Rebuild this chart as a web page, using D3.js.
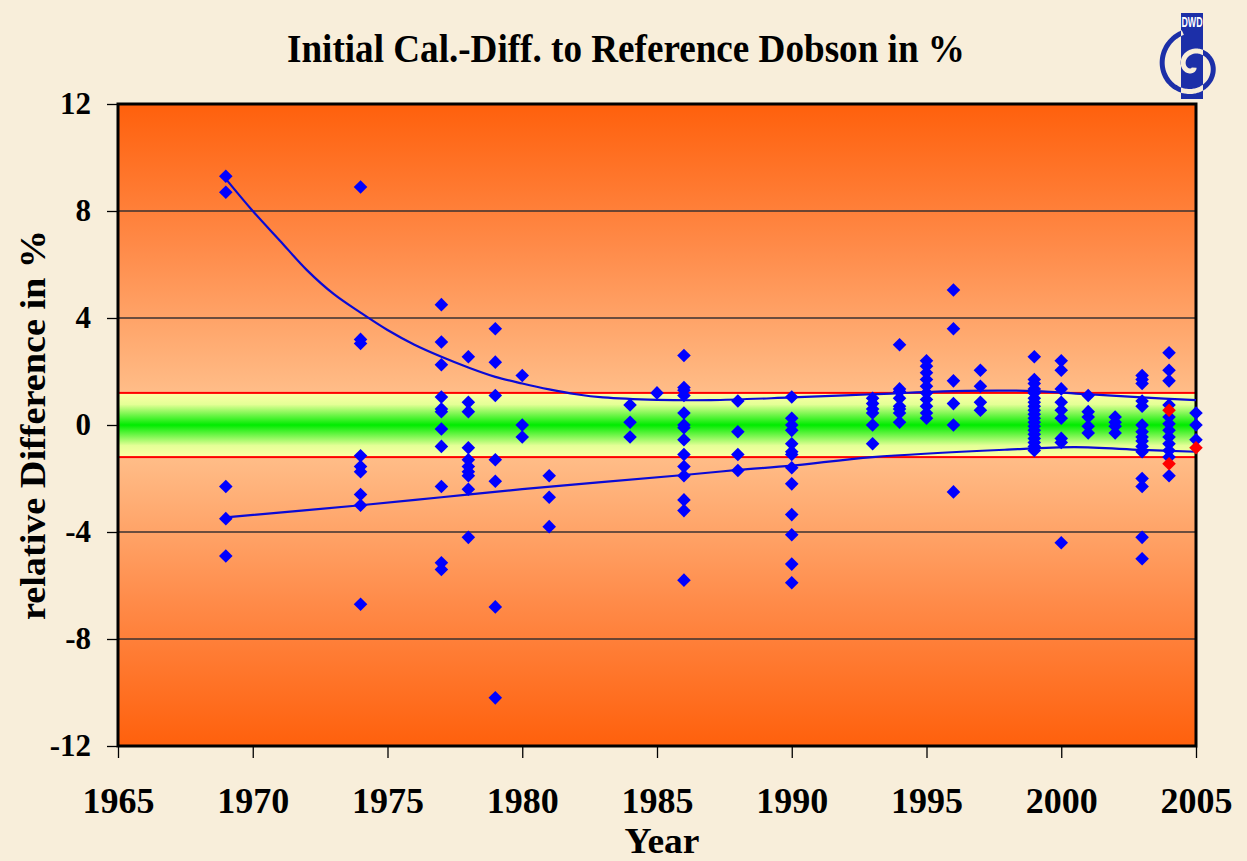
<!DOCTYPE html>
<html>
<head>
<meta charset="utf-8">
<script src="https://cdn.jsdelivr.net/npm/d3@7"></script>
<style>
  body { margin: 0; background: #f8eeda; }
  svg { display: block; }
  .serif { font-family: "Liberation Serif", "Times New Roman", serif; font-weight: bold; fill: #000; }
</style>
</head>
<body>
<div class="chart"></div>
<script>
// values
var years = [1969, 1974, 1977, 1978, 1979, 1980, 1981, 1984, 1985, 1986, 1988, 1990,
             1993, 1994, 1995, 1996, 1997, 1999, 2000, 2001, 2002, 2003, 2004, 2005];
var blueDiffs = [
  [9.3, 8.7, -2.3, -3.5, -4.9],
  [8.9, 3.2, 3.05, -1.15, -1.55, -1.75, -2.6, -3.0, -6.7],
  [4.5, 3.1, 2.25, 1.05, 0.6, 0.5, -0.15, -0.8, -2.3, -5.15, -5.4],
  [2.55, 0.85, 0.5, -0.85, -1.3, -1.55, -1.75, -1.9, -2.4, -4.2],
  [3.6, 2.35, 1.1, -1.3, -2.1, -6.8, -10.2],
  [1.85, 0.0, -0.45],
  [-1.9, -2.7, -3.8],
  [0.75, 0.1, -0.45],
  [1.2],
  [2.6, 1.4, 1.3, 1.1, 0.45, 0.0, -0.1, -0.55, -1.1, -1.55, -1.9, -2.8, -3.2, -5.8],
  [0.9, -0.25, -1.1, -1.7],
  [1.05, 0.25, 0.0, -0.2, -0.7, -1.0, -1.1, -1.6, -2.2, -3.35, -4.1, -5.2, -5.9],
  [1.0, 0.8, 0.6, 0.45, 0.0, -0.7],
  [3.0, 1.35, 1.25, 1.0, 0.7, 0.6, 0.45, 0.1],
  [2.4, 2.2, 1.95, 1.7, 1.45, 1.2, 0.95, 0.7, 0.45, 0.25],
  [5.05, 3.6, 1.65, 0.8, 0.0, -2.5],
  [2.05, 1.45, 0.85, 0.55],
  [2.55, 1.7, 1.55, 1.35, 1.2, 1.0, 0.85, 0.7, 0.55, 0.4, 0.25, 0.1, -0.05, -0.2, -0.35, -0.5, -0.65, -0.8, -0.95],
  [2.4, 2.05, 1.35, 0.85, 0.55, 0.25, -0.5, -0.65, -4.4],
  [1.1, 0.5, 0.3, -0.05, -0.3],
  [0.3, 0.1, -0.05, -0.3],
  [1.85, 1.7, 1.55, 0.9, 0.7, 0.0, -0.25, -0.45, -0.6, -0.8, -1.0, -2.0, -2.3, -4.2, -5.0],
  [2.7, 2.05, 1.65, 0.75, 0.3, 0.05, -0.2, -0.45, -0.7, -0.95, -1.2, -1.9],
  [0.45, 0.0, -0.55]
];
var redYears = [2004, 2004, 2005];
var redDiffs = [0.55, -1.45, -0.85];

// upper / lower envelope curves
var upperYears = [1969, 1970, 1971, 1972, 1973, 1974, 1975, 1976, 1977, 1978, 1979, 1980, 1981, 1982, 1983, 1985, 1987, 1990, 1993, 1996, 1999, 2001, 2003, 2005];
var upperDiffs = [9.2, 8.0, 6.9, 5.8, 4.9, 4.2, 3.55, 3.0, 2.55, 2.15, 1.8, 1.55, 1.33, 1.15, 1.03, 0.94, 0.93, 1.03, 1.15, 1.27, 1.27, 1.15, 1.03, 0.93];
var lowerYears = [1969, 1974, 1977, 1980, 1986, 1988, 1990, 1993, 1998, 2000.5, 2003, 2005];
var lowerDiffs = [-3.45, -3.0, -2.7, -2.4, -1.87, -1.68, -1.52, -1.2, -0.92, -0.83, -0.93, -1.0];

var bandLimit = 1.2;
var yTicks = [-12, -8, -4, 0, 4, 8, 12];
var gridValues = [-8, -4, 4, 8];
var xTicks = [1965, 1970, 1975, 1980, 1985, 1990, 1995, 2000, 2005];

var w = 1247,
    h = 861;

var svg = d3.select('.chart').append('svg').attr('width', w).attr('height', h);

var x = d3.scaleLinear().domain([1965, 2005]).range([118, 1196]);
var y = d3.scaleLinear().domain([-12, 12]).range([746, 104]);

var defs = svg.append('defs');

var bg = defs.append('linearGradient').attr('id', 'bg')
  .attr('x1', 0).attr('y1', 0).attr('x2', 0).attr('y2', 1);
bg.append('stop').attr('offset', '0%').attr('stop-color', '#ff600c');
bg.append('stop').attr('offset', '22%').attr('stop-color', '#ff8a48');
bg.append('stop').attr('offset', '50%').attr('stop-color', '#ffc896');
bg.append('stop').attr('offset', '78%').attr('stop-color', '#ff8a48');
bg.append('stop').attr('offset', '100%').attr('stop-color', '#ff600c');

var band = defs.append('linearGradient').attr('id', 'band')
  .attr('x1', 0).attr('y1', 0).attr('x2', 0).attr('y2', 1);
band.append('stop').attr('offset', '0%').attr('stop-color', '#ffffa8');
band.append('stop').attr('offset', '18%').attr('stop-color', '#e4ff96');
band.append('stop').attr('offset', '50%').attr('stop-color', '#00ec00');
band.append('stop').attr('offset', '82%').attr('stop-color', '#e4ff96');
band.append('stop').attr('offset', '100%').attr('stop-color', '#ffffa8');

// plot background
svg.append('rect')
  .attr('x', x(1965)).attr('y', y(12))
  .attr('width', x(2005) - x(1965)).attr('height', y(-12) - y(12))
  .attr('fill', 'url(#bg)');

// grid lines
svg.selectAll('.grid')
  .data(gridValues)
  .enter().append('line')
  .attr('class', 'grid')
  .attr('x1', x(1965)).attr('x2', x(2005))
  .attr('y1', function (d) { return y(d); })
  .attr('y2', function (d) { return y(d); })
  .attr('stroke', '#3a3030').attr('stroke-width', 1.3);

// tolerance band
svg.append('rect')
  .attr('x', x(1965)).attr('y', y(bandLimit))
  .attr('width', x(2005) - x(1965)).attr('height', y(-bandLimit) - y(bandLimit))
  .attr('fill', 'url(#band)')
  .attr('stroke', '#ff0000').attr('stroke-width', 2);

// frame
svg.append('rect')
  .attr('x', x(1965)).attr('y', y(12))
  .attr('width', x(2005) - x(1965)).attr('height', y(-12) - y(12))
  .attr('fill', 'none').attr('stroke', '#000').attr('stroke-width', 3);

// axes
var plain = function (d) { return String(d); };
var yAxis = svg.append('g')
  .attr('transform', 'translate(' + (x(1965) - 1) + ',0)')
  .call(d3.axisLeft(y).tickValues(yTicks).tickSize(10).tickPadding(16).tickFormat(plain));
var xAxis = svg.append('g')
  .attr('transform', 'translate(0,' + (y(-12) + 1) + ')')
  .call(d3.axisBottom(x).tickValues(xTicks).tickSize(11).tickPadding(29).tickFormat(plain));

[yAxis, xAxis].forEach(function (g) {
  g.select('.domain').remove();
  g.selectAll('.tick line').attr('stroke', '#000').attr('stroke-width', 1.3);
  g.selectAll('.tick text').attr('class', 'serif').attr('fill', '#000');
});
yAxis.selectAll('.tick text').style('font-size', '31px');
xAxis.selectAll('.tick text').style('font-size', '36px')
  .attr('textLength', 72).attr('lengthAdjust', 'spacingAndGlyphs');

// fit curves
var line = d3.line()
  .x(function (d) { return x(d[0]); })
  .y(function (d) { return y(d[1]); })
  .curve(d3.curveCatmullRom.alpha(0.5));

[[upperYears, upperDiffs], [lowerYears, lowerDiffs]].forEach(function (s) {
  svg.append('path')
    .datum(d3.zip(s[0], s[1]))
    .attr('d', line)
    .attr('fill', 'none')
    .attr('stroke', '#0a0ad6')
    .attr('stroke-width', 2.2);
});

// points
var bluePoints = [];
years.forEach(function (yr, i) {
  blueDiffs[i].forEach(function (v) { bluePoints.push([yr, v]); });
});
var diamond = d3.symbol().type(d3.symbolSquare).size(92);

svg.selectAll('.pt')
  .data(bluePoints)
  .enter().append('path')
  .attr('class', 'pt')
  .attr('d', diamond)
  .attr('transform', function (d) { return 'translate(' + x(d[0]) + ',' + y(d[1]) + ') rotate(45)'; })
  .attr('fill', '#0000ff');

svg.selectAll('.rpt')
  .data(d3.zip(redYears, redDiffs))
  .enter().append('path')
  .attr('class', 'rpt')
  .attr('d', diamond)
  .attr('transform', function (d) { return 'translate(' + x(d[0]) + ',' + y(d[1]) + ') rotate(45)'; })
  .attr('fill', '#ff0000');

// titles
svg.append('text').attr('class', 'serif')
  .attr('x', 626).attr('y', 62)
  .attr('text-anchor', 'middle')
  .style('font-size', '39px')
  .attr('textLength', 678).attr('lengthAdjust', 'spacingAndGlyphs')
  .text('Initial Cal.-Diff. to Reference Dobson in %');

svg.append('text').attr('class', 'serif')
  .attr('transform', 'translate(45,425) rotate(-90)')
  .attr('text-anchor', 'middle')
  .style('font-size', '35px')
  .attr('textLength', 390).attr('lengthAdjust', 'spacingAndGlyphs')
  .text('relative Difference in %');

svg.append('text').attr('class', 'serif')
  .attr('x', 662).attr('y', 853)
  .attr('text-anchor', 'middle')
  .style('font-size', '36px')
  .attr('textLength', 75).attr('lengthAdjust', 'spacingAndGlyphs')
  .text('Year');

// DWD logo
var logo = svg.append('g');
var barClip = defs.append('clipPath').attr('id', 'barClip');
barClip.append('rect').attr('x', 1181).attr('y', 13).attr('width', 22).attr('height', 86);
var outClip = defs.append('clipPath').attr('id', 'outClip');
outClip.append('path')
  .attr('d', 'M1140,0H1247V110H1140Z M1181,13V99H1203V13Z')
  .attr('clip-rule', 'evenodd');

var spiralPts = d3.range(0, 3.1 * Math.PI, 0.05).map(function (t) {
  var r = 2 + t * 3.4;
  return [1193 + r * Math.cos(t + 1.0), 66 + r * Math.sin(t + 1.0)];
});
var spiral = d3.line().curve(d3.curveBasis)(spiralPts);

logo.append('rect').attr('x', 1181).attr('y', 13).attr('width', 22).attr('height', 86).attr('fill', '#1c2fa8');
logo.append('path').attr('d', spiral).attr('fill', 'none')
  .attr('stroke', '#f8eeda').attr('stroke-width', 5).attr('clip-path', 'url(#barClip)');
logo.append('path').attr('d', spiral).attr('fill', 'none')
  .attr('stroke', '#1c2fa8').attr('stroke-width', 5).attr('clip-path', 'url(#outClip)');
logo.append('text')
  .attr('x', 1192).attr('y', 27)
  .attr('text-anchor', 'middle')
  .attr('textLength', 21).attr('lengthAdjust', 'spacingAndGlyphs')
  .style('font-family', 'Liberation Sans, Arial, sans-serif')
  .style('font-weight', 'bold').style('font-size', '14px')
  .attr('fill', '#fff')
  .text('DWD');
</script>
</body>
</html>
